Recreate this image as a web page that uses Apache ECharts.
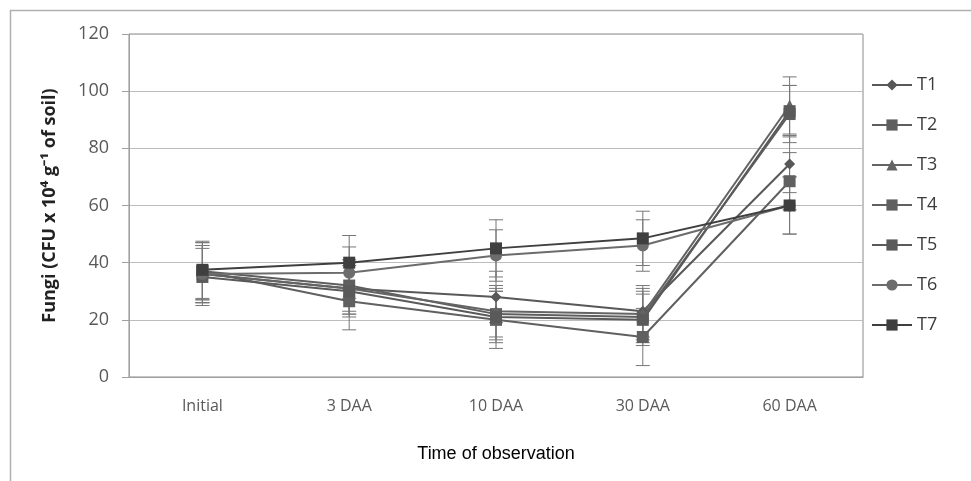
<!DOCTYPE html>
<html>
<head>
<meta charset="utf-8">
<script src="https://cdn.jsdelivr.net/npm/echarts@6/dist/echarts.min.js"></script>
<style>
  html, body { margin: 0; padding: 0; background: #fff; }
  #chart { width: 971px; height: 481px; }
</style>
</head>
<body>
<div id="chart"></div>
<script>
const categories = ['Initial', '3 DAA', '10 DAA', '30 DAA', '60 DAA'];
const names = ['T1', 'T2', 'T3', 'T4', 'T5', 'T6', 'T7'];

// means
const t1 = [36, 31, 28, 23, 74.5];
const t2 = [37, 32, 22, 21, 92];
const t3 = [36, 31, 23, 22, 95];
const t4 = [37, 26.5, 20, 14, 68.5];
const t5 = [35, 30, 21, 20, 93];
const t6 = [36, 36.5, 42.5, 46, 60];
const t7 = [37.5, 40, 45, 48.5, 60];

// +/- error for each point
const e1 = [10, 9, 9, 9, 10];
const e2 = [10, 9, 9, 9, 10];
const e3 = [10, 9, 9, 9, 10];
const e4 = [10, 10, 10, 10, 10];
const e5 = [10, 9, 9, 9, 9];
const e6 = [10, 9, 9, 9, 10];
const e7 = [10, 9.5, 10, 9.5, 10];

const yTicks = [0, 20, 40, 60, 80, 100, 120];

const means = [t1, t2, t3, t4, t5, t6, t7];
const errs = [e1, e2, e3, e4, e5, e6, e7];
const symbols = ['diamond', 'rect', 'triangle', 'rect', 'rect', 'circle', 'rect'];
const sizes = [11, 12, 12, 12, 12, 12, 12];
const colors = ['#585858', '#5e5e5e', '#646464', '#606060', '#5a5a5a', '#6c6c6c', '#3f3f3f'];

const chart = echarts.init(document.getElementById('chart'));

function errorBar(color) {
  return function (params, api) {
    const x = api.value(0);
    const lo = api.coord([x, api.value(1)]);
    const hi = api.coord([x, api.value(2)]);
    const w = 7;
    const style = { stroke: color, lineWidth: 1 };
    return {
      type: 'group',
      children: [
        { type: 'line', shape: { x1: lo[0], y1: lo[1], x2: hi[0], y2: hi[1] }, style },
        { type: 'line', shape: { x1: lo[0] - w, y1: lo[1], x2: lo[0] + w, y2: lo[1] }, style },
        { type: 'line', shape: { x1: hi[0] - w, y1: hi[1], x2: hi[0] + w, y2: hi[1] }, style }
      ]
    };
  };
}

const series = [];
means.forEach((m, i) => {
  series.push({
    type: 'custom',
    name: names[i] + '_err',
    renderItem: errorBar('#777777'),
    data: m.map((v, j) => [j, v - errs[i][j], v + errs[i][j]]),
    z: 1,
    silent: true
  });
});
means.forEach((m, i) => {
  series.push({
    type: 'line',
    name: names[i],
    data: m,
    symbol: symbols[i],
    symbolSize: sizes[i],
    showAllSymbol: true,
    lineStyle: { color: colors[i], width: 2 },
    itemStyle: { color: colors[i] },
    z: 3
  });
});

chart.setOption({
  animation: false,
  graphic: [{
    type: 'rect',
    shape: { x: 10.5, y: 10.5, width: 1000, height: 600 },
    style: { fill: null, stroke: '#b0b0b0', lineWidth: 1.5 },
    silent: true
  }],
  grid: {
    left: 129, right: 108, top: 34, bottom: 104,
    show: true, borderColor: '#8a8a8a', borderWidth: 1
  },
  legend: {
    data: names,
    orient: 'vertical',
    left: 866,
    top: 71,
    itemWidth: 40,
    itemHeight: 14,
    itemGap: 22,
    textStyle: { fontFamily: 'Open Sans', fontSize: 18, color: '#3c3c3c' }
  },
  xAxis: {
    type: 'category',
    data: categories,
    boundaryGap: true,
    axisLine: { lineStyle: { color: '#a0a0a0' } },
    axisTick: { show: false },
    axisLabel: { fontFamily: 'Open Sans', fontSize: 16, color: '#595959', margin: 21 },
    name: 'Time of observation',
    nameLocation: 'middle',
    nameGap: 68,
    nameTextStyle: { fontFamily: 'Liberation Sans', fontSize: 18, color: '#000' }
  },
  yAxis: {
    type: 'value',
    min: yTicks[0],
    max: yTicks[yTicks.length - 1],
    interval: 20,
    axisLine: { show: true, lineStyle: { color: '#a0a0a0' } },
    axisTick: { show: true, length: 7, lineStyle: { color: '#a0a0a0' } },
    splitLine: { lineStyle: { color: '#bdbdbd' } },
    axisLabel: { fontFamily: 'Open Sans', fontSize: 18, color: '#595959', margin: 20 },
    name: 'Fungi (CFU x 10\u2074 g\u207B\u00B9 of soil)',
    nameLocation: 'middle',
    nameGap: 70,
    nameTextStyle: { fontFamily: 'Open Sans', fontSize: 18, fontWeight: 'bold', color: '#222' }
  },
  series
});
</script>
</body>
</html>
